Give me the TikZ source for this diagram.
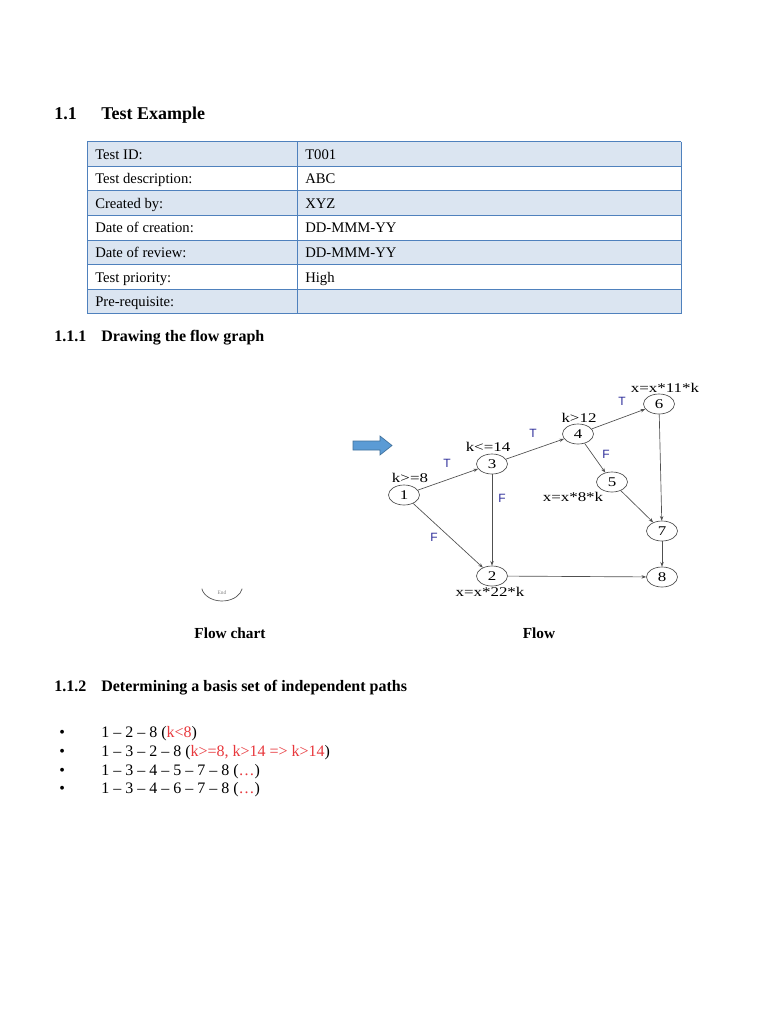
\documentclass[tikz,border=0pt]{standalone}
\usepackage{fontspec}
\setmainfont{Liberation Serif}
\newfontfamily\labsans{Liberation Sans}
\usepackage{graphicx}
\usetikzlibrary{shapes.geometric,arrows.meta}
\definecolor{rowblue}{HTML}{DBE5F1}
\definecolor{tblline}{HTML}{4F81BD}
\definecolor{pathred}{HTML}{E8383D}
\definecolor{tfblue}{HTML}{2E2E9A}
\definecolor{arrowfill}{HTML}{5B9BD5}
\definecolor{arrowline}{HTML}{41719C}
\definecolor{edgegray}{HTML}{505050}
\newcommand{\wide}[1]{\scalebox{1.27}[1]{#1}}
\begin{document}
\begin{tikzpicture}[x=0.75pt,y=-0.75pt,
  headone/.style={anchor=base west,inner sep=0pt,font=\bfseries\fontsize{13.5}{16}\selectfont},
  headtwo/.style={anchor=base west,inner sep=0pt,font=\bfseries\fontsize{12}{14}\selectfont},
  cell/.style={anchor=base west,font=\fontsize{11}{13}\selectfont,inner sep=0pt},
  body/.style={anchor=base west,font=\fontsize{12}{14}\selectfont,inner sep=0pt},
  gnode/.style={ellipse,draw=edgegray,line width=0.5pt,minimum width=23.25pt,minimum height=15pt,inner sep=0pt,font=\fontsize{10}{11}\selectfont},
  glab/.style={font=\fontsize{10}{11}\selectfont,inner sep=0pt},
  tf/.style={font=\labsans\fontsize{9}{10}\selectfont,text=tfblue,inner sep=0pt},
  edge/.style={draw=edgegray,line width=0.5pt,-{Stealth[length=3.5pt,width=2.6pt]}},
  caption/.style={font=\bfseries\fontsize{11.5}{13}\selectfont,inner sep=0pt}
]
\useasboundingbox (0,0) rectangle (768,1024);
\fill[white] (0,0) rectangle (768,1024);

% ---- Heading 1.1
\node[headone] (h1num) at (54,119) {1.1};
\node[headone] (h1txt) at (101,119) {Test Example};

% ---- Table
\foreach \i in {0,2,4,6}
  \fill[rowblue] (87,141.5+\i*24.6) rectangle (681,141.5+\i*24.6+24.6);
\foreach \i in {0,...,7}
  \draw[tblline,line width=0.6pt] (87,141.5+\i*24.6) -- (681,141.5+\i*24.6);
\foreach \x in {87,297,681}
  \draw[tblline,line width=0.6pt] (\x,141.5) -- (\x,313.7);
\foreach \a/\b [count=\i from 0] in {Test ID:/T001,Test description:/ABC,Created by:/XYZ,Date of creation:/DD-MMM-YY,Date of review:/DD-MMM-YY,Test priority:/High,Pre-requisite:/{}}{
  \node[cell] (l\i) at (95,159+\i*24.6) {\a};
  \node[cell] (r\i) at (305,159+\i*24.6) {\b};
}

% ---- Heading 1.1.1
\node[headtwo] (h2num) at (54,341) {1.1.1};
\node[headtwo] (h2txt) at (101,341) {Drawing the flow graph};

% ---- Blue block arrow
\draw[fill=arrowfill,draw=arrowline,line width=0.5pt]
  (353,441) -- (380,441) -- (380,436) -- (392,445.5) -- (380,455) -- (380,450) -- (353,450) -- cycle;

% ---- Flow graph
\node[gnode] (n1) at (404,495) {\wide{1}};
\node[gnode] (n3) at (492,464) {\wide{3}};
\node[gnode] (n4) at (578,434) {\wide{4}};
\node[gnode] (n6) at (659,404) {\wide{6}};
\node[gnode] (n5) at (612,482) {\wide{5}};
\node[gnode] (n7) at (662,531) {\wide{7}};
\node[gnode] (n2) at (492,576) {\wide{2}};
\node[gnode] (n8) at (662,577) {\wide{8}};

\node[glab] (c1) at (410,478) {\wide{k>=8}};
\node[glab] (c3) at (488,447) {\wide{k<=14}};
\node[glab] (c4) at (579,418) {\wide{k>12}};
\node[glab] (a6) at (665,388) {\wide{x=x*11*k}};
\node[glab] (a5) at (573,497) {\wide{x=x*8*k}};
\node[glab] (a2) at (490,592) {\wide{x=x*22*k}};

\path[edge] (n1) -- (n3);
\path[edge] (n3) -- (n4);
\path[edge] (n4) -- (n6);
\path[edge] (n4) -- (n5);
\path[edge] (n3) -- (n2);
\path[edge] (n1) -- (n2);
\path[edge] (n2) -- (n8);
\path[edge] (n5) -- (n7);
\path[edge] (n6) -- (n7);
\path[edge] (n7) -- (n8);

\node[tf] (t13) at (447,463) {T};
\node[tf] (t34) at (533,433) {T};
\node[tf] (t46) at (622,401) {T};
\node[tf] (f45) at (606,454) {F};
\node[tf] (f32) at (502,498) {F};
\node[tf] (f12) at (434,537) {F};

% ---- Flow chart fragment (End terminal)
\draw[edgegray,line width=0.5pt] (222,586) ++(170:20.5 and 15) arc[start angle=170,end angle=10,x radius=20.5,y radius=15];
\node[font=\fontsize{4}{5}\selectfont,text=gray,inner sep=0pt] (endtxt) at (222,593) {End};

\node[caption] (cap1) at (230,633) {Flow chart};
\node[caption] (cap2) at (539,633) {Flow};

% ---- Heading 1.1.2
\node[headtwo] (h3num) at (54,691) {1.1.2};
\node[headtwo] (h3txt) at (101,691) {Determining a basis set of independent paths};

% ---- Paths
\foreach \yy in {737.5,756.3,775,793.7}
  \node[body] at (59,\yy) {•};
\node[body] (p1) at (101,737.5) {1 -- 2 -- 8 (\textcolor{pathred}{k<8})};
\node[body] (p2) at (101,756.3) {1 -- 3 -- 2 -- 8 (\textcolor{pathred}{k>=8, k>14 => k>14})};
\node[body] (p3) at (101,775) {1 -- 3 -- 4 -- 5 -- 7 -- 8 (\textcolor{pathred}{…})};
\node[body] (p4) at (101,793.7) {1 -- 3 -- 4 -- 6 -- 7 -- 8 (\textcolor{pathred}{…})};
\end{tikzpicture}
\end{document}
